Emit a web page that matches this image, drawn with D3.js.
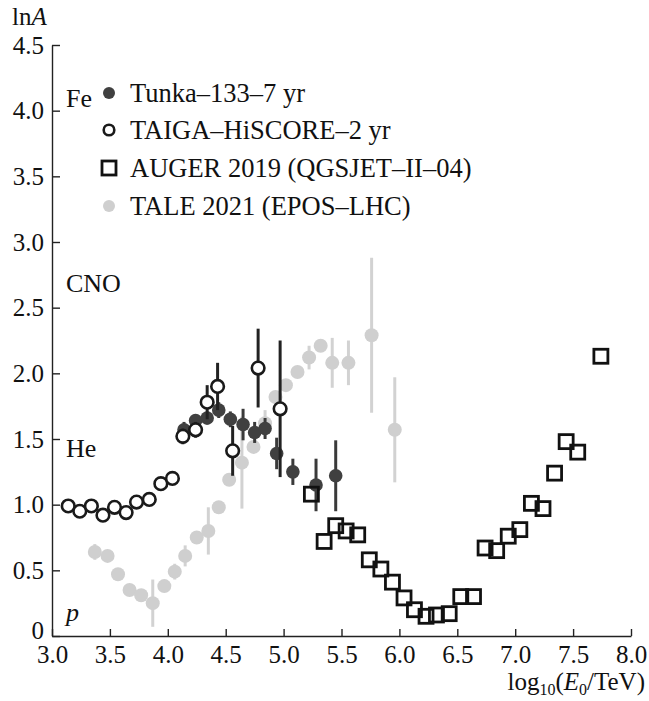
<!DOCTYPE html>
<html lang="en">
<head>
<meta charset="UTF-8">
<title>lnA vs energy</title>
<style>
  body { margin: 0; background: #fff; }
  text { font-family: "Liberation Serif", "Times New Roman", serif; fill: #111; }
</style>
</head>
<body>
<svg></svg>
<script src="https://d3js.org/d3.v7.min.js"></script>
<script>
// ---- data ----
var tunkaX   = [4.14, 4.24, 4.34, 4.44, 4.54, 4.65, 4.75, 4.84, 4.94, 5.08, 5.28, 5.45];
var tunkaY   = [1.57, 1.64, 1.66, 1.72, 1.65, 1.61, 1.55, 1.58, 1.39, 1.25, 1.15, 1.22];
var tunkaErr = [0.06, 0.05, 0.05, 0.06, 0.06, 0.12, 0.08, 0.08, 0.12, 0.10, 0.20, 0.27];

var taigaX   = [3.14, 3.24, 3.34, 3.44, 3.54, 3.64, 3.73, 3.84, 3.94, 4.04, 4.13, 4.24, 4.34, 4.43, 4.56, 4.78, 4.97];
var taigaY   = [0.99, 0.95, 0.99, 0.92, 0.98, 0.94, 1.02, 1.04, 1.16, 1.20, 1.52, 1.57, 1.78, 1.90, 1.41, 2.04, 1.73];
var taigaErr = [0, 0, 0, 0, 0, 0, 0, 0, 0, 0, 0.06, 0.06, 0.13, 0.18, 0.19, 0.30, 0.52];

var augerX = [5.24, 5.35, 5.45, 5.54, 5.64, 5.74, 5.84, 5.94, 6.04, 6.13, 6.23, 6.32, 6.43, 6.53, 6.64,
              6.74, 6.84, 6.94, 7.04, 7.14, 7.24, 7.34, 7.44, 7.54, 7.74];
var augerY = [1.08, 0.72, 0.84, 0.80, 0.77, 0.58, 0.51, 0.41, 0.29, 0.20, 0.15, 0.16, 0.17, 0.30, 0.30,
              0.67, 0.65, 0.76, 0.81, 1.01, 0.97, 1.24, 1.48, 1.40, 2.13];

var taleX   = [3.37, 3.48, 3.57, 3.67, 3.77, 3.87, 3.97, 4.06, 4.15, 4.25, 4.35, 4.44, 4.53, 4.64, 4.74,
               4.84, 4.93, 5.02, 5.12, 5.22, 5.32, 5.42, 5.56, 5.76, 5.96];
var taleY   = [0.64, 0.61, 0.47, 0.35, 0.31, 0.25, 0.38, 0.49, 0.61, 0.75, 0.80, 0.98, 1.19, 1.32, 1.44,
               1.62, 1.82, 1.91, 2.01, 2.12, 2.21, 2.08, 2.08, 2.29, 1.57];
var taleErr = [0.06, 0, 0, 0, 0, 0.18, 0, 0.06, 0.08, 0, 0.18, 0, 0, 0.35, 0,
               0.10, 0, 0, 0, 0.09, 0, 0.19, 0.17, 0.59, 0.40];

var xTicks = [3.0, 3.5, 4.0, 4.5, 5.0, 5.5, 6.0, 6.5, 7.0, 7.5, 8.0];
var yTicks = [0, 0.5, 1.0, 1.5, 2.0, 2.5, 3.0, 3.5, 4.0, 4.5];

var legendNames = ["Tunka\u2013133\u20137 yr", "TAIGA\u2013HiSCORE\u20132 yr",
                   "AUGER 2019 (QGSJET\u2013II\u201304)", "TALE 2021 (EPOS\u2013LHC)"];
var groupLabels = [{t: "Fe", v: 4.1}, {t: "CNO", v: 2.69}, {t: "He", v: 1.43}, {t: "p", v: 0.18}];

// ---- setup ----
var width = 649, height = 701;
var svg = d3.select("svg").attr("width", width).attr("height", height);

var x = d3.scaleLinear().domain([3, 8]).range([52, 631]);
var y = d3.scaleLinear().domain([0, 4.5]).range([636, 45]);

function zip(xs, ys, es) {
  return xs.map(function(d, i) { return {x: d, y: ys[i], e: es ? es[i] : 0}; });
}
var tunka = zip(tunkaX, tunkaY, tunkaErr);
var taiga = zip(taigaX, taigaY, taigaErr);
var auger = zip(augerX, augerY);
var tale  = zip(taleX, taleY, taleErr);

// axes
var xAxis = d3.axisBottom(x).tickValues(xTicks).tickFormat(d3.format(".1f"))
  .tickSizeInner(-7).tickSizeOuter(0).tickPadding(9);
var yAxis = d3.axisLeft(y).tickValues(yTicks)
  .tickFormat(function(d) { return d === 0 ? "0" : d3.format(".1f")(d); })
  .tickSizeInner(-8).tickSizeOuter(0).tickPadding(8);

var gx = svg.append("g").attr("transform", "translate(0," + y(0) + ")").call(xAxis);
var gy = svg.append("g").attr("transform", "translate(" + x(3) + ",0)").call(yAxis);
[gx, gy].forEach(function(g) {
  g.attr("font-family", null);
  g.selectAll("path, line").attr("stroke", "#222").attr("stroke-width", 1.4);
  g.selectAll("text").attr("font-size", 25).attr("fill", "#111");
});
// "0" sits a little higher than the other y labels
gy.selectAll(".tick text").filter(function(d) { return d === 0; }).attr("dy", "0.1em");

// axis titles
var yt = svg.append("text").attr("x", 12).attr("y", 25).attr("font-size", 25);
yt.append("tspan").text("ln");
yt.append("tspan").attr("font-style", "italic").text("A");

var xt = svg.append("text").attr("x", 645).attr("y", 690).attr("font-size", 25).attr("text-anchor", "end");
xt.append("tspan").text("log");
xt.append("tspan").attr("font-size", 16).attr("dy", 5).text("10");
xt.append("tspan").attr("dy", -5).text("(");
xt.append("tspan").attr("font-style", "italic").text("E");
xt.append("tspan").attr("font-size", 16).attr("dy", 5).text("0");
xt.append("tspan").attr("dy", -5).text("/TeV)");

// group labels
svg.append("g").selectAll("text").data(groupLabels).enter().append("text")
  .attr("x", 66).attr("y", function(d) { return y(d.v); })
  .attr("dy", "0.35em").attr("font-size", 26)
  .attr("font-style", function(d) { return d.t === "p" ? "italic" : null; })
  .text(function(d) { return d.t; });

// error bars helper
function errBars(data, color, w) {
  svg.append("g").selectAll("line").data(data.filter(function(d) { return d.e > 0; }))
    .enter().append("line")
    .attr("x1", function(d) { return x(d.x); }).attr("x2", function(d) { return x(d.x); })
    .attr("y1", function(d) { return y(d.y - d.e); }).attr("y2", function(d) { return y(d.y + d.e); })
    .attr("stroke", color).attr("stroke-width", w);
}

// TALE
errBars(tale, "#d2d2d2", 3);
svg.append("g").selectAll("circle").data(tale).enter().append("circle")
  .attr("cx", function(d) { return x(d.x); }).attr("cy", function(d) { return y(d.y); })
  .attr("r", 7).attr("fill", "#cfcfcf");

// Tunka
errBars(tunka, "#3a3a3a", 3);
svg.append("g").selectAll("circle").data(tunka).enter().append("circle")
  .attr("cx", function(d) { return x(d.x); }).attr("cy", function(d) { return y(d.y); })
  .attr("r", 6.8).attr("fill", "#404040");

// TAIGA
errBars(taiga, "#222", 3);
svg.append("g").selectAll("circle").data(taiga).enter().append("circle")
  .attr("cx", function(d) { return x(d.x); }).attr("cy", function(d) { return y(d.y); })
  .attr("r", 6.3).attr("fill", "#fff").attr("stroke", "#1a1a1a").attr("stroke-width", 2.6);

// AUGER
var sq = 14;
svg.append("g").selectAll("rect").data(auger).enter().append("rect")
  .attr("x", function(d) { return x(d.x) - sq / 2; }).attr("y", function(d) { return y(d.y) - sq / 2; })
  .attr("width", sq).attr("height", sq)
  .attr("fill", "none").attr("stroke", "#111").attr("stroke-width", 2.8);

// legend
var legY = [93, 130, 168, 206];
var lx = 109;
var leg = svg.append("g");
leg.append("circle").attr("cx", lx).attr("cy", legY[0]).attr("r", 6).attr("fill", "#404040");
leg.append("circle").attr("cx", lx).attr("cy", legY[1]).attr("r", 5.3).attr("fill", "#fff")
  .attr("stroke", "#1a1a1a").attr("stroke-width", 2.6);
leg.append("rect").attr("x", lx - 7).attr("y", legY[2] - 7).attr("width", 14).attr("height", 14)
  .attr("fill", "none").attr("stroke", "#111").attr("stroke-width", 2.8);
leg.append("circle").attr("cx", lx).attr("cy", legY[3]).attr("r", 6).attr("fill", "#cfcfcf");
leg.selectAll("text").data(legendNames).enter().append("text")
  .attr("x", 130).attr("y", function(d, i) { return legY[i]; })
  .attr("dy", "0.35em").attr("font-size", 26.5)
  .text(function(d) { return d; });
</script>
</body>
</html>
